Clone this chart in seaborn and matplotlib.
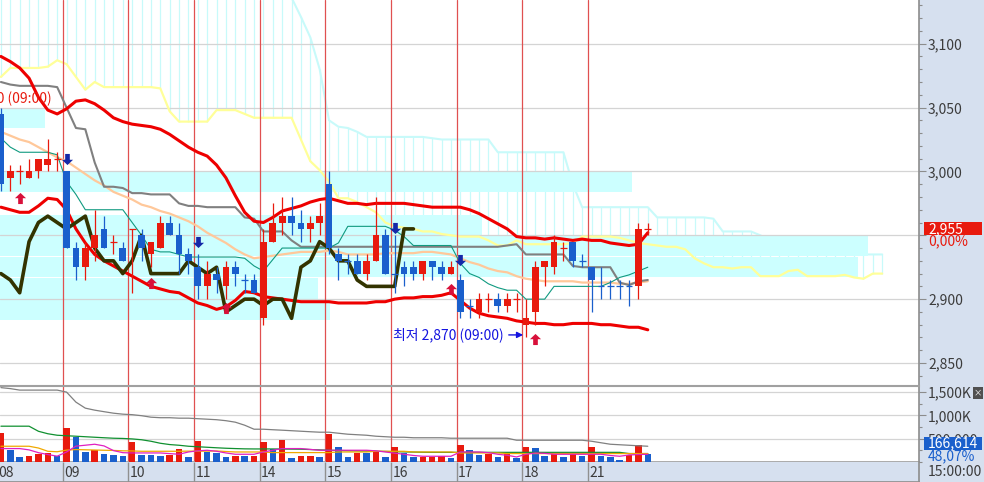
import numpy as np
import pandas as pd
import seaborn as sns
import matplotlib.pyplot as plt
from matplotlib.path import Path
from matplotlib.patches import Rectangle
from matplotlib.ticker import FixedLocator, MultipleLocator, FuncFormatter, FixedFormatter

sns.set_theme(style="white")
plt.rcParams['font.family'] = ['Liberation Sans Narrow', 'Noto Sans CJK KR', 'DejaVu Sans']

RED = '#e81a0e'
BLUE = '#1a5fcc'
PANEL = '#d6e0ef'
CYAN = '#c8fafa'
BAND = '#ccffff'

# hourly bars, 7 per trading day
days = ["08", "09", "10", "11", "14", "15", "16", "17", "18", "21"]
bars_per_day = 7

opens = [3045, 2995, 3000, 2995, 3000, 3005, 3010, 3000, 2940, 2925,
         2940, 2955, 2945, 2940, 2955, 2950, 2935, 2940, 2960, 2950,
         2935, 2925, 2910, 2920, 2910, 2925, 2915, 2915, 2885, 2945,
         2960, 2965, 2960, 2955, 2960, 2990, 2935, 2930, 2930, 2920,
         2930, 2950, 2920, 2925, 2925, 2920, 2930, 2925, 2920, 2915,
         2895, 2890, 2900, 2900, 2895, 2900, 2880, 2890, 2925, 2925,
         2940, 2945, 2930, 2925, 2910, 2910, 2910, 2910, 2910, 2955]
closes = [2990, 3000, 3000, 3000, 3010, 3010, 3010, 2940, 2925, 2940,
          2950, 2940, 2945, 2930, 2955, 2940, 2945, 2960, 2950, 2935,
          2930, 2910, 2920, 2915, 2925, 2920, 2915, 2905, 2945, 2960,
          2965, 2960, 2955, 2960, 2965, 2940, 2930, 2930, 2920, 2930,
          2950, 2920, 2920, 2920, 2920, 2930, 2925, 2920, 2925, 2890,
          2895, 2900, 2900, 2895, 2900, 2900, 2885, 2925, 2930, 2945,
          2940, 2930, 2930, 2915, 2910, 2910, 2910, 2910, 2955, 2955]
highs = [3050, 3005, 3005, 3010, 3010, 3025, 3015, 3000, 2945, 2945,
         2970, 2965, 2950, 2945, 2955, 2955, 2945, 2965, 2965, 2960,
         2940, 2935, 2930, 2925, 2930, 2930, 2920, 2920, 2955, 2975,
         2980, 2980, 2970, 2965, 2975, 3000, 2940, 2935, 2935, 2935,
         2980, 2955, 2950, 2930, 2930, 2930, 2930, 2930, 2930, 2920,
         2900, 2905, 2905, 2905, 2905, 2905, 2900, 2930, 2930, 2950,
         2945, 2945, 2935, 2925, 2925, 2915, 2915, 2915, 2960, 2960]
lows = [2985, 2985, 2990, 2995, 2995, 3000, 3000, 2940, 2915, 2915,
        2930, 2940, 2935, 2930, 2905, 2930, 2925, 2940, 2950, 2920,
        2920, 2900, 2900, 2905, 2900, 2910, 2905, 2905, 2880, 2945,
        2950, 2950, 2945, 2945, 2950, 2935, 2915, 2920, 2920, 2915,
        2930, 2920, 2905, 2910, 2915, 2915, 2915, 2915, 2920, 2885,
        2885, 2885, 2890, 2890, 2890, 2890, 2870, 2880, 2910, 2920,
        2930, 2925, 2925, 2890, 2900, 2900, 2900, 2895, 2900, 2950]
candle_dir = ("BRRRRRRBBR" "RBRBRBRRBB" "BBRBRBBBRR" "RBBRRBBBBR"
              "RBBBBRBBRB" "BRRBRRRRRR" "RBBBBBBBRR")

volumes = [623000, 252000, 101000, 123000, 166000, 194000, 123000, 731000, 538000, 215000,
           252000, 166000, 144000, 123000, 430000, 144000, 140000, 123000, 144000, 273000,
           101000, 445000, 215000, 194000, 101000, 123000, 120000, 125000, 430000, 288000,
           467000, 80000, 123000, 125000, 101000, 596000, 323000, 101000, 194000, 190000,
           237000, 101000, 323000, 194000, 101000, 105000, 108000, 123000, 80000, 359000,
           252000, 144000, 166000, 101000, 166000, 80000, 323000, 295000, 123000, 166000,
           101000, 166000, 123000, 323000, 123000, 101000, 43000, 144000, 359000, 166614]

bb_up = [3090, 3086, 3081, 3073, 3058, 3048, 3045, 3049, 3055, 3056,
         3053, 3048, 3042, 3039, 3037, 3036, 3035, 3033, 3029, 3024,
         3019, 3015, 3012, 3005, 2995, 2981, 2968, 2961, 2960, 2964,
         2969, 2971, 2973, 2976, 2978, 2979, 2977, 2975, 2975, 2974,
         2975, 2975, 2975, 2975, 2974, 2973, 2972, 2972, 2972, 2972,
         2970, 2967, 2963, 2959, 2955, 2949, 2948, 2948, 2947, 2948,
         2947, 2946, 2947, 2946, 2946, 2944, 2943, 2942, 2943, 2952]
bb_mid = [3031, 3028, 3025, 3023, 3019, 3015, 3011, 3008, 3003, 2998,
          2993, 2989, 2984, 2981, 2978, 2974, 2972, 2969, 2967, 2964,
          2961, 2957, 2952, 2948, 2944, 2939, 2935, 2932, 2933, 2934,
          2935, 2936, 2937, 2937, 2937, 2938, 2937, 2935, 2935, 2935,
          2935, 2936, 2936, 2936, 2936, 2937, 2937, 2936, 2935, 2932,
          2929, 2927, 2924, 2922, 2921, 2918, 2916, 2915, 2914, 2914,
          2914, 2914, 2913, 2913, 2913, 2913, 2912, 2912, 2913, 2914]
bb_lo = [2972, 2970, 2968, 2968, 2973, 2979, 2978, 2970, 2955, 2944,
         2935, 2930, 2926, 2922, 2918, 2914, 2910, 2908, 2906, 2905,
         2901, 2897, 2895, 2892, 2894, 2899, 2906, 2905, 2902, 2901,
         2900, 2899, 2898, 2898, 2898, 2898, 2897, 2897, 2897, 2897,
         2898, 2898, 2900, 2901, 2901, 2902, 2902, 2903, 2905, 2899,
         2893, 2889, 2887, 2886, 2885, 2883, 2882, 2881, 2881, 2880,
         2880, 2881, 2881, 2881, 2880, 2880, 2879, 2878, 2878, 2876]
tenkan = [3026, 3019, 3015, 3015, 3015, 3015, 3013, 2992, 2982, 2970,
          2970, 2970, 2970, 2970, 2960, 2950, 2939, 2937, 2937, 2935,
          2933, 2933, 2933, 2933, 2933, 2933, 2932, 2926, 2922, 2931,
          2940, 2940, 2940, 2940, 2940, 2940, 2944, 2957, 2957, 2957,
          2957, 2957, 2954, 2949, 2942, 2942, 2942, 2942, 2942, 2928,
          2920, 2917, 2912, 2909, 2907, 2907, 2900, 2900, 2900, 2910,
          2910, 2910, 2910, 2910, 2910, 2913, 2917, 2919, 2922, 2925]
kijun = [3070, 3068, 3067, 3067, 3067, 3067, 3066, 3050, 3034, 3033,
         3007, 2988, 2988, 2987, 2983, 2983, 2982, 2982, 2982, 2975,
         2973, 2973, 2972, 2972, 2972, 2972, 2964, 2963, 2953, 2953,
         2953, 2946, 2941, 2941, 2941, 2941, 2941, 2941, 2941, 2941,
         2941, 2941, 2941, 2941, 2941, 2941, 2941, 2941, 2941, 2941,
         2941, 2941, 2941, 2941, 2942, 2943, 2935, 2935, 2935, 2935,
         2935, 2926, 2925, 2925, 2925, 2925, 2913, 2911, 2914, 2915]
# leading spans run 25 bars past the last bar
span_a = [3074, 3081, 3081, 3081, 3081, 3082, 3087, 3084, 3074, 3064,
          3070, 3066, 3066, 3066, 3066, 3066, 3066, 3065, 3047, 3039,
          3039, 3039, 3039, 3048, 3048, 3048, 3045, 3042, 3042, 3042,
          3042, 3042, 3025, 3008, 3001, 2992, 2979, 2979, 2976, 2972,
          2968, 2960, 2957, 2956, 2955, 2953, 2953, 2951, 2950, 2949,
          2949, 2949, 2946, 2942, 2942, 2946, 2943, 2943, 2943, 2943,
          2943, 2944, 2949, 2949, 2949, 2949, 2948, 2946, 2944, 2943,
          2942, 2941, 2941, 2939, 2932, 2928, 2925, 2925, 2924, 2925,
          2925, 2918, 2918, 2918, 2922, 2923, 2918, 2918, 2918, 2918,
          2919, 2917, 2916, 2920, 2920]
span_b = [3160, 3160, 3160, 3160, 3160, 3160, 3160, 3160, 3160, 3160,
          3160, 3160, 3160, 3160, 3160, 3160, 3160, 3160, 3160, 3160,
          3160, 3160, 3160, 3160, 3160, 3160, 3160, 3160, 3160, 3155,
          3145, 3136, 3121, 3105, 3080, 3040, 3035, 3034, 3031, 3027,
          3027, 3027, 3027, 3027, 3027, 3027, 3026, 3025, 3025, 3025,
          3025, 3025, 3025, 3015, 3015, 3015, 3015, 3015, 3015, 3015,
          3015, 2990, 2972, 2972, 2972, 2972, 2972, 2972, 2972, 2972,
          2964, 2964, 2964, 2964, 2964, 2964, 2963, 2953, 2953, 2953,
          2953, 2950, 2946, 2946, 2945, 2944, 2942, 2940, 2938, 2937,
          2936, 2935, 2935, 2935, 2935]

vma_gray = [1595, 1574, 1542, 1542, 1542, 1542, 1542, 1499, 1284, 1155,
            1112, 1079, 1047, 1026, 1015, 993, 961, 950, 950, 940,
            940, 929, 918, 907, 886, 854, 789, 703, 703, 692,
            682, 671, 660, 649, 639, 639, 617, 596, 585, 574,
            553, 542, 531, 531, 520, 520, 520, 520, 510, 510,
            510, 510, 510, 510, 510, 467, 467, 467, 467, 467,
            467, 467, 467, 445, 413, 381, 370, 359, 348, 338]
vma_green = [768, 768, 768, 768, 659, 606, 574, 563, 553, 542,
             531, 520, 510, 505, 495, 477, 445, 402, 374, 359,
             338, 327, 316, 305, 295, 288, 282, 280, 280, 280,
             278, 276, 274, 267, 260, 252, 247, 243, 239, 234,
             230, 226, 221, 217, 213, 209, 207, 207, 207, 207,
             207, 207, 207, 207, 207, 207, 207, 207, 207, 207,
             207, 207, 207, 207, 207, 207, 207, 181, 181, 181]
vma_orange = [338, 338, 338, 338, 300, 230, 220, 255, 267, 262,
              257, 252, 248, 240, 237, 230, 230, 230, 230, 230,
              233, 233, 233, 237, 225, 215, 215, 215, 215, 202,
              202, 202, 202, 202, 202, 202, 215, 215, 215, 215,
              230, 230, 230, 230, 215, 215, 215, 215, 215, 194,
              194, 194, 194, 194, 181, 181, 181, 181, 181, 181,
              181, 181, 181, 181, 181, 181, 181, 181, 181, 181]
vma_magenta = [288, 288, 288, 260, 200, 160, 125, 215, 340, 360,
               381, 345, 245, 200, 194, 194, 194, 194, 180, 166,
               215, 240, 252, 230, 194, 166, 166, 166, 215, 252,
               288, 288, 288, 270, 252, 252, 252, 252, 252, 252,
               240, 215, 190, 166, 140, 123, 123, 123, 123, 215,
               215, 215, 200, 166, 144, 108, 166, 194, 185, 166,
               166, 166, 166, 166, 166, 140, 123, 151, 160, 166]

# volume-at-price bands: bottom price of each band and how far it reaches (bar index)
band_lo = [2883.3, 2900.0, 2916.7, 2933.3, 2950.0, 2966.7, 2983.3, 3000.0, 3016.7, 3033.3]
band_reach = [35.1, 33.8, 91.4, 92.5, 51.3, -0.1, 67.3, -0.1, -0.1, 4.7]
band_step = 16.67

buy_idx = [2, 16, 24, 48, 57]
buy_y = [2979, 2913, 2893, 2908, 2869]
sell_idx = [7, 21, 42, 49]
sell_y = [3010, 2945, 2956, 2931]

W, H = 984.0, 482.0
XLIM = (-0.1, 97.93)

fig = plt.figure(figsize=(9.84, 4.82), dpi=100)
fig.patch.set_facecolor(PANEL)
ax = fig.add_axes([0, 96.5 / H, 919 / W, 385.5 / H])
axv = fig.add_axes([0, 20 / H, 919 / W, 76 / H])
axb = fig.add_axes([0, 0, 919 / W, 20 / H])

n = len(opens)
x = np.arange(n)
x_lead = np.arange(len(span_a))
day_x = np.arange(1, len(days)) * bars_per_day - 0.4
label_x = np.arange(len(days)) * bars_per_day - 0.25

# ---------- price panel ----------
ax.set_facecolor('white')
for lv in range(2850, 3101, 50):
    ax.axhline(lv, color='#d4d4d4', lw=0.9, zorder=1.1)

ax.vlines(x_lead, np.minimum(span_a, span_b), np.maximum(span_a, span_b),
          colors=CYAN, lw=0.9, zorder=0.8)
sns.lineplot(x=x_lead, y=span_b, ax=ax, color=CYAN, linewidth=1.5, zorder=0.9)

ax.barh(np.array(band_lo) + band_step / 2, np.array(band_reach) - XLIM[0],
        height=band_step - 0.8, left=XLIM[0], color=BAND, linewidth=0, zorder=1)

sns.lineplot(x=x_lead, y=span_a, ax=ax, color='#ffff99', linewidth=1.6, zorder=1.3)
for d in day_x:
    ax.axvline(d, color='#e05050', lw=0.9, zorder=1.5)

lines = pd.DataFrame({'x': x, 'bb_up': bb_up, 'bb_lo': bb_lo, 'bb_mid': bb_mid,
                      'kijun': kijun, 'tenkan': tenkan})
sns.lineplot(data=lines, x='x', y='bb_mid', ax=ax, color='#ffc89a', linewidth=1.6, zorder=2)
sns.lineplot(data=lines, x='x', y='kijun', ax=ax, color='#808080', linewidth=1.5, zorder=2.1)
sns.lineplot(data=lines, x='x', y='tenkan', ax=ax, color='#109a80', linewidth=0.8, zorder=2.2)
sns.lineplot(data=lines, x='x', y='bb_up', ax=ax, color='#ee0000', linewidth=2.2, zorder=2.3)
sns.lineplot(data=lines, x='x', y='bb_lo', ax=ax, color='#ee0000', linewidth=2.2, zorder=2.3)
# lagging span: closes drawn 25 bars back
sns.lineplot(x=x[:n - 25], y=closes[25:], ax=ax, color='#333300', linewidth=2.6, zorder=2.5)

o = np.array(opens); c = np.array(closes)
col = np.array([RED if d == 'R' else BLUE for d in candle_dir])
ax.vlines(x, lows, highs, colors=col, lw=0.9, zorder=6)
body = np.abs(c - o)
m = body > 0
ax.bar(x[m], body[m], bottom=np.minimum(o, c)[m], width=0.72, color=col[m], linewidth=0, zorder=7)
ax.hlines(c[~m], x[~m] - 0.36, x[~m] + 0.36, colors=col[~m], lw=0.9, zorder=7)

up_arrow = Path([(0, 1), (-1, 0.05), (-0.42, 0.05), (-0.42, -1), (0.42, -1), (0.42, 0.05), (1, 0.05), (0, 1)],
                [Path.MOVETO] + [Path.LINETO] * 6 + [Path.CLOSEPOLY])
down_arrow = Path([(vx, -vy) for vx, vy in up_arrow.vertices], up_arrow.codes)
ax.plot(buy_idx, buy_y, ls='none', marker=up_arrow, ms=8, color='#d8103a', mew=0, zorder=8)
ax.plot(sell_idx, sell_y, ls='none', marker=down_arrow, ms=8, color='#1428a8', mew=0, zorder=8)

lo_i = int(np.argmin(lows))
ax.annotate('최저 2,870 (09:00)', xy=(lo_i - 0.3, lows[lo_i] + 2), xytext=(-19, 0),
            textcoords='offset pixels', ha='right', va='center', color='#1414e0', fontsize=10,
            arrowprops=dict(arrowstyle='-|>', color='#1414e0', lw=1, shrinkA=1, shrinkB=0,
                            mutation_scale=9), zorder=9)
# the high label sits partly off the left edge, as in the source chart
ax.text(5.45, 3057.5, '최고 3,060 (09:00)', ha='right', va='center', color=RED,
        fontsize=10, clip_on=True, zorder=9)

ax.set_xlim(*XLIM)
ax.set_ylim(2832.4, 3134.2)
ax.set_xlabel(''); ax.set_ylabel('')
ax.set_xticks([])
ax.yaxis.tick_right()
ax.yaxis.set_major_locator(MultipleLocator(50))
ax.yaxis.set_minor_locator(MultipleLocator(10))
ax.yaxis.set_major_formatter(FuncFormatter(lambda v, _: '' if round(v) == 2950 else f"{v:,.0f}"))
for a in (ax, axv):
    a.tick_params(axis='y', which='both', right=True, direction='out', color='#8c8c8c',
                  labelsize=10, labelcolor='#3c3c3c', pad=1.5)
    a.tick_params(axis='y', which='major', length=5, width=0.8)
    a.tick_params(axis='y', which='minor', length=2.5, width=0.8)
    for s in ('top', 'left', 'bottom'):
        a.spines[s].set_visible(False)
    a.spines['right'].set_color('#8c8c8c')
    a.spines['right'].set_linewidth(1.2)

ytr = ax.get_yaxis_transform()
ax.add_patch(Rectangle((924 / 919, 2955 - 5.1), 58 / 919, 10.2, transform=ytr,
                       facecolor=RED, edgecolor='none', clip_on=False, zorder=9))
ax.text(928 / 919, 2955, '2,955', transform=ytr, color='white', fontsize=10,
        va='center', ha='left', zorder=10, clip_on=False)
ax.text(928 / 919, 2945.0, '0,00%', transform=ytr, color=RED, fontsize=10,
        va='center', ha='left', zorder=10, clip_on=False)

# ---------- volume panel ----------
axv.set_facecolor('white')
for lv in (500000, 1000000, 1500000):
    axv.axhline(lv, color='#d4d4d4', lw=0.9, zorder=0.8)
for d in day_x:
    axv.axvline(d, color='#e05050', lw=0.9, zorder=1.5)
vol = np.array(volumes)
vcol = [RED] + [RED if vol[i] > vol[i - 1] else BLUE for i in range(1, n)]
axv.bar(x, vol, width=0.7, color=vcol, linewidth=0, zorder=3)
vdf = pd.DataFrame({'x': x, 'g': np.array(vma_gray) * 1000, 'gr': np.array(vma_green) * 1000,
                    'or': np.array(vma_orange) * 1000, 'mg': np.array(vma_magenta) * 1000})
sns.lineplot(data=vdf, x='x', y='g', ax=axv, color='#808080', linewidth=0.9, zorder=4)
sns.lineplot(data=vdf, x='x', y='gr', ax=axv, color='#109030', linewidth=0.9, zorder=4)
sns.lineplot(data=vdf, x='x', y='or', ax=axv, color='#f0a800', linewidth=0.9, zorder=4)
sns.lineplot(data=vdf, x='x', y='mg', ax=axv, color='#e020c0', linewidth=0.9, zorder=4)
axv.set_xlim(*XLIM)
axv.set_ylim(0, 1630000)
axv.set_xlabel(''); axv.set_ylabel('')
axv.set_xticks([])
axv.yaxis.tick_right()
axv.yaxis.set_major_locator(FixedLocator([500000, 1000000, 1500000]))
axv.yaxis.set_major_formatter(FixedFormatter(['500,000', '1,000K', '1,500K']))
axv.yaxis.set_minor_locator(MultipleLocator(250000))
axv.spines['top'].set_visible(True)
axv.spines['top'].set_color('#a0a0a0')
axv.spines['top'].set_linewidth(1.5)
axv.spines['bottom'].set_visible(True)
axv.spines['bottom'].set_color('#a0a0a0')

vtr = axv.get_yaxis_transform()
axv.add_patch(Rectangle((924 / 919, 251000), 58 / 919, 280000, transform=vtr,
                        facecolor=BLUE, edgecolor='none', clip_on=False, zorder=9))
axv.text(928 / 919, 391000, '166,614', transform=vtr, color='white', fontsize=10,
         va='center', ha='left', zorder=10, clip_on=False)
axv.text(928 / 919, 120000, '48,07%', transform=vtr, color=BLUE, fontsize=10,
         va='center', ha='left', zorder=10, clip_on=False)

# ---------- date band ----------
axb.set_facecolor(PANEL)
axb.set_xlim(*XLIM)
axb.set_ylim(0, 1)
axb.vlines(day_x, 0, 1, colors='#909090', lw=1)
for lx, lab in zip(label_x, days):
    axb.text(lx, 0.47, lab, ha='left', va='center', fontsize=10, color='#3c3c3c', clip_on=True)
axb.set_xticks([]); axb.set_yticks([])
for s in ('top', 'left'):
    axb.spines[s].set_visible(False)
axb.spines['bottom'].set_color('#909090')
axb.spines['right'].set_color('#8c8c8c')
axb.spines['right'].set_linewidth(1.2)

fig.text(928 / W, 10 / H, '15:00:00', ha='left', va='center', fontsize=10, color='#3c3c3c')
fig.text(978 / W, 1 - 393 / H, '×', ha='center', va='center', fontsize=6, color='white',
         bbox=dict(boxstyle='square,pad=0.15', fc='#505050', ec='none'))

fig.savefig('out.png', dpi=100, facecolor=fig.get_facecolor())
